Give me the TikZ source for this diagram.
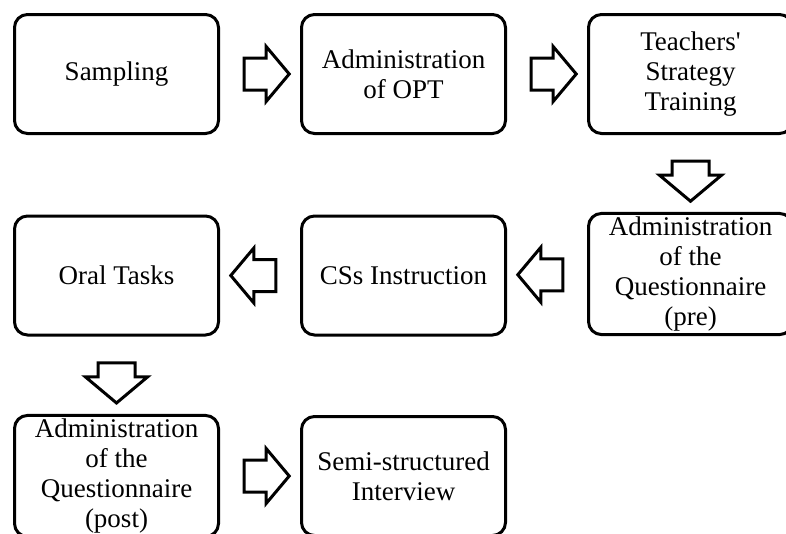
\documentclass[tikz,border=0pt]{standalone}
\usepackage{fontspec}
\setmainfont{Liberation Serif}
\usetikzlibrary{shapes.arrows,positioning,calc}

\begin{document}
\begin{tikzpicture}[x=1pt,y=-1pt,
  stage/.style={rectangle, draw, line width=3pt, rounded corners=13pt,
    minimum width=204pt, minimum height=119pt, align=center,
    font=\fontsize{27}{30}\selectfont},
  flow/.style={single arrow, draw, line width=3pt, inner xsep=0pt, inner ysep=14.5pt,
    minimum height=45pt, single arrow head extend=11.5pt,
    single arrow tip angle=100, single arrow head indent=0pt},
  flowdown/.style={flow, rotate=-90, inner ysep=17pt, minimum height=40pt,
    single arrow head extend=12.5pt}]
\useasboundingbox (0,0) rectangle (786,533);
\clip (0,0) rectangle (786,533);

% stages
\node[stage] (samp) at (116.5,74) {Sampling};
\node[stage] (opt) at (403.5,74) {Administration\\of OPT};
\node[stage] (train) at (690.5,74) {Teachers\textquotesingle\\Strategy\\Training};
\node[stage] (qpre) at (690.5,274) {Administration\\of the\\Questionnaire\\(pre)};
\node[stage] (css) at (403.5,275.5) {CSs Instruction};
\node[stage] (oral) at (116.5,275.5) {Oral Tasks};
\node[stage] (qpost) at (116.5,476) {Administration\\of the\\Questionnaire\\(post)};
\node[stage] (semi) at (403.5,476) {Semi-structured\\Interview};

% block arrows
\node[flow] (a1) at ($(samp.east)!0.5!(opt.west)$) {};
\node[flow] (a2) at ($(opt.east)!0.5!(train.west)$) {};
\node[flowdown] (a3) at ($(train.south)!0.5!(qpre.north)$) {};
\node[flow, rotate=180] (a4) at ($(qpre.west)!0.5!(css.east)$) {};
\node[flow, rotate=180] (a5) at ($(css.west)!0.5!(oral.east)$) {};
\node[flowdown] (a6) at ($(oral.south)!0.5!(qpost.north)$) {};
\node[flow] (a7) at ($(qpost.east)!0.5!(semi.west)$) {};
\end{tikzpicture}
\end{document}
